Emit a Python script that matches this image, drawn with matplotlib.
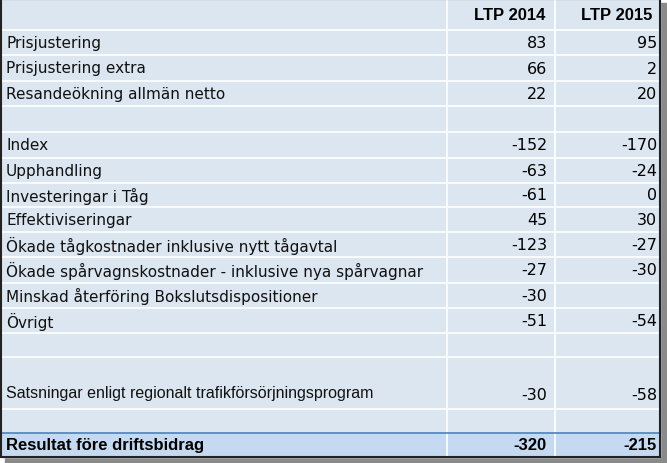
import matplotlib.pyplot as plt
from matplotlib.patches import Rectangle

headers = ["LTP 2014", "LTP 2015"]
labels = ["Prisjustering", "Prisjustering extra", "Resandeökning allmän netto", "",
          "Index", "Upphandling", "Investeringar i Tåg", "Effektiviseringar",
          "Ökade tågkostnader inklusive nytt tågavtal",
          "Ökade spårvagnskostnader - inklusive nya spårvagnar",
          "Minskad återföring Bokslutsdispositioner", "Övrigt", "",
          "Satsningar enligt regionalt trafikförsörjningsprogram", ""]
ltp2014 = ["83", "66", "22", "", "-152", "-63", "-61", "45", "-123", "-27", "-30", "-51", "", "-30", ""]
ltp2015 = ["95", "2", "20", "", "-170", "-24", "0", "30", "-27", "-30", "", "-54", "", "-58", ""]
total_label = "Resultat före driftsbidrag"
total = ["-320", "-215"]

# row edges in pixels
edges = [31, 56, 82, 107, 133, 159, 184, 208, 233, 258, 284, 309, 334, 358, 410, 434]
tot_top, tot_bot = 434, 458
x0, x1, x2, x3 = 1, 447, 555, 660

fig = plt.figure(figsize=(6.67, 4.64), dpi=100)
ax = fig.add_axes([0, 0, 1, 1])
ax.set_xlim(0, 667)
ax.set_ylim(464, 0)
ax.axis("off")

bg = "#DCE6F1"
# shadow
ax.add_patch(Rectangle((x0 + 4, 4), x3 - x0 + 3, tot_bot + 2, color="#8a8a8a", zorder=0))
ax.add_patch(Rectangle((x0, 0), x3 - x0, tot_bot, color=bg, zorder=1))
ax.add_patch(Rectangle((x0, tot_top), x3 - x0, tot_bot - tot_top, color="#C5D9F1", zorder=1))

for y in edges[:-1]:
    ax.plot([x0, x3], [y, y], color="white", lw=1.2, zorder=2)
for x in (x1, x2):
    ax.plot([x, x], [0, tot_bot], color="white", lw=1.2, zorder=2)
ax.plot([x0, x3], [tot_top, tot_top], color="#4F81BD", lw=1.2, zorder=3)
ax.add_patch(Rectangle((x0, 0), x3 - x0, tot_bot, fill=False, ec="#222222", lw=1.5, zorder=4))

fs = 11.5
bold = dict(fontsize=12, fontweight="bold", family="Liberation Sans", zorder=5)
ax.text(x2 - 10, 16, headers[0], ha="right", va="center", **bold)
ax.text(x3 - 8, 16, headers[1], ha="right", va="center", **bold)

for i, lab in enumerate(labels):
    top, bot = edges[i], edges[i + 1]
    if bot - top > 30:
        y = top + (bot - top) * 0.72
        ax.text(6, y - 2, lab, ha="left", va="center", fontsize=11.5,
                family="Liberation Sans", zorder=5, color="#111111")
    else:
        y = (top + bot) / 2
        ax.text(6, y, lab, ha="left", va="center", fontsize=fs - 0.5,
                family="DejaVu Sans", zorder=5, color="#111111")
    ax.text(x2 - 8, y, ltp2014[i], ha="right", va="center", fontsize=fs, family="DejaVu Sans", zorder=5)
    ax.text(x3 - 3, y, ltp2015[i], ha="right", va="center", fontsize=fs, family="DejaVu Sans", zorder=5)

ty = (tot_top + tot_bot) / 2
ax.text(6, ty, total_label, ha="left", va="center", **bold)
ax.text(x2 - 8, ty, total[0], ha="right", va="center", **bold)
ax.text(x3 - 3, ty, total[1], ha="right", va="center", **bold)

fig.savefig("out.png", dpi=100, facecolor="white")
